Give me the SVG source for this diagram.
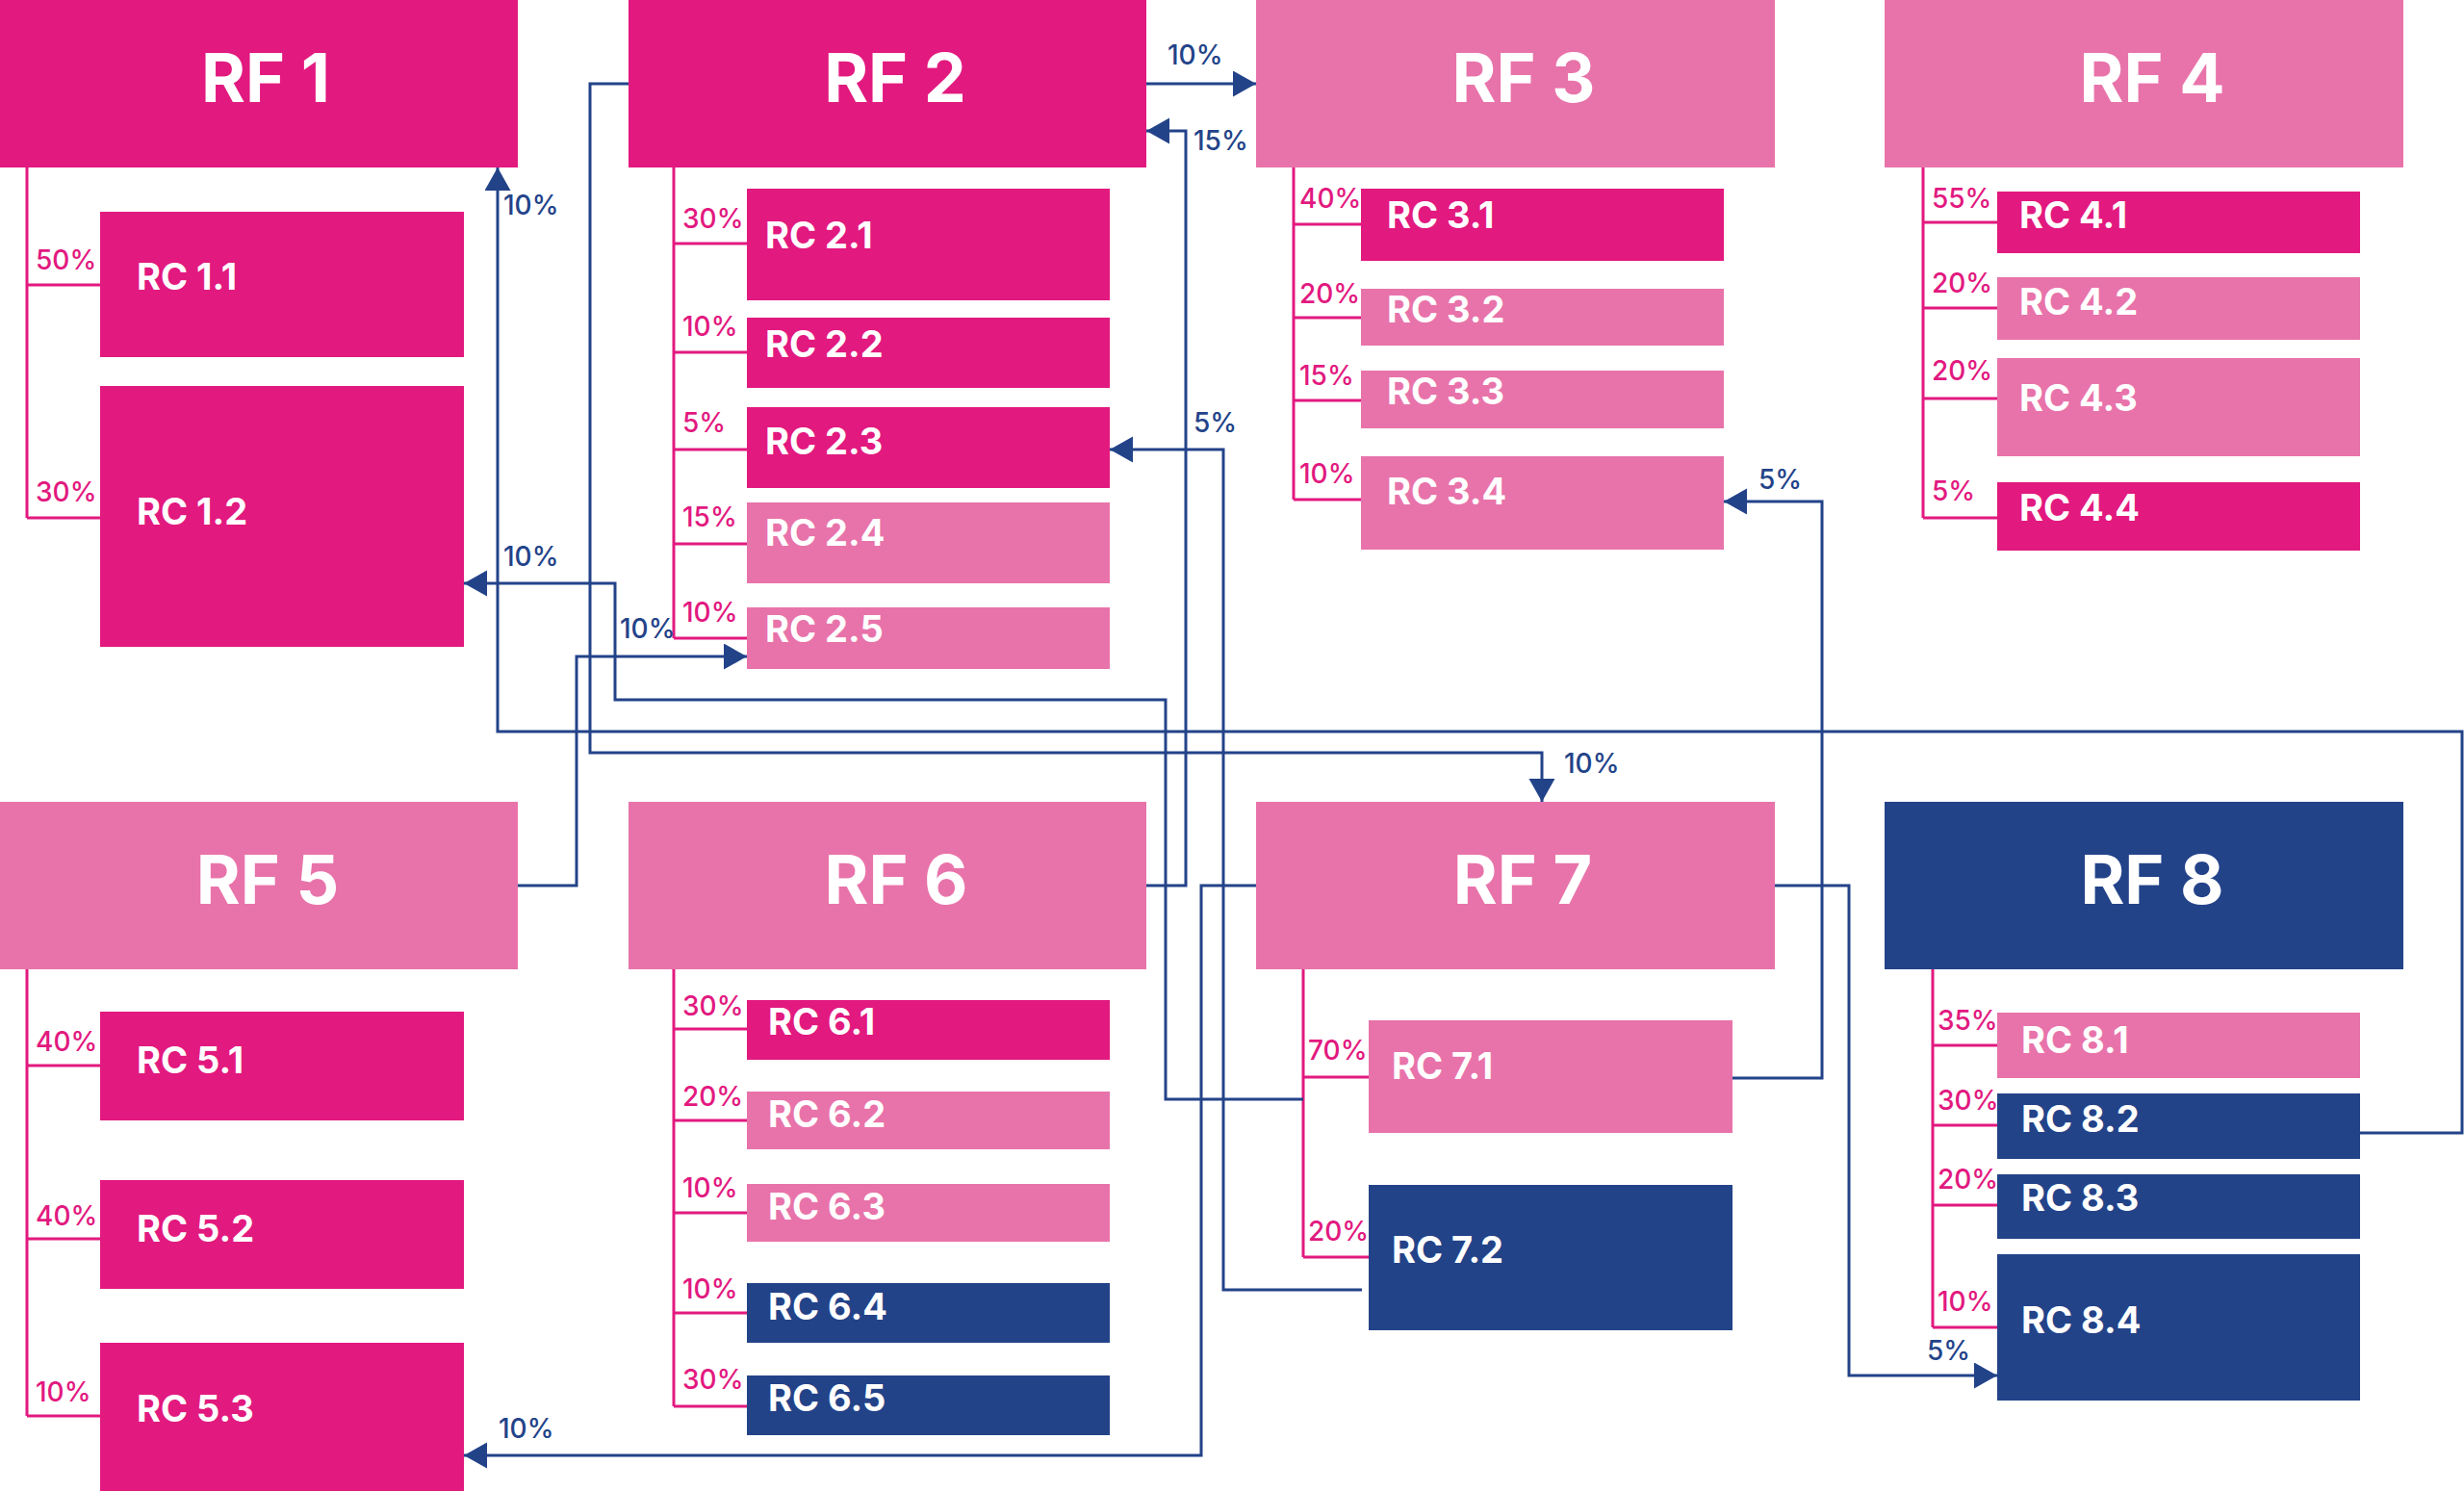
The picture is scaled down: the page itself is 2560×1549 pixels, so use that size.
<svg xmlns="http://www.w3.org/2000/svg" width="2560" height="1549" viewBox="0 0 2560 1549">
<defs>
<style>
text{font-family:Inter,"Liberation Sans",sans-serif}
.m{fill:#E2197F}.l{fill:#E873AA}.n{fill:#234389}
.rf{fill:#fff;font-size:70px;font-weight:700;text-anchor:middle}
.rc{fill:#fff;font-size:38px;font-weight:700}
.pl{fill:#E2197F;font-size:28px;font-weight:500}
.bl{fill:#234389;font-size:28px;font-weight:500}
.stem{fill:none;stroke:#E2197F;stroke-width:3}
.flow{fill:none;stroke:#234389;stroke-width:3;marker-end:url(#ah)}
</style>
<marker id="ah" markerUnits="userSpaceOnUse" markerWidth="26" markerHeight="28" refX="24" refY="13.5" orient="auto" viewBox="0 0 26 28">
<path d="M0,0 L24,13.5 L0,27 z" fill="#234389"/>
</marker>
</defs>
<rect width="2560" height="1549" fill="#fff"/>

<g id="connectors">
<g id="stems">
<path class="stem" d="M28,174 V538 M28,296 H104 M28,538 H104"/>
<path class="stem" d="M700,174 V663 M700,253 H776 M700,366 H776 M700,467 H776 M700,565 H776 M700,663 H776"/>
<path class="stem" d="M1344,174 V519 M1344,233 H1414 M1344,330 H1414 M1344,416 H1414 M1344,519 H1414"/>
<path class="stem" d="M1998,174 V538 M1998,231 H2075 M1998,320 H2075 M1998,414 H2075 M1998,538 H2075"/>
<path class="stem" d="M28,1007 V1471 M28,1107 H104 M28,1287 H104 M28,1471 H104"/>
<path class="stem" d="M700,1007 V1461 M700,1069 H776 M700,1164 H776 M700,1260 H776 M700,1364 H776 M700,1461 H776"/>
<path class="stem" d="M1354,1007 V1306 M1354,1119 H1422 M1354,1306 H1422"/>
<path class="stem" d="M2008,1007 V1379 M2008,1086 H2075 M2008,1169 H2075 M2008,1252 H2075 M2008,1379 H2075"/>
</g>
<g id="share-labels">
<text class="pl" x="37" y="280">50%</text>
<text class="pl" x="37" y="521">30%</text>
<text class="pl" x="709" y="237">30%</text>
<text class="pl" x="709" y="349">10%</text>
<text class="pl" x="709" y="449">5%</text>
<text class="pl" x="709" y="547">15%</text>
<text class="pl" x="709" y="646">10%</text>
<text class="pl" x="1350" y="216">40%</text>
<text class="pl" x="1350" y="315">20%</text>
<text class="pl" x="1350" y="400">15%</text>
<text class="pl" x="1350" y="502">10%</text>
<text class="pl" x="2007" y="216">55%</text>
<text class="pl" x="2007" y="304">20%</text>
<text class="pl" x="2007" y="395">20%</text>
<text class="pl" x="2007" y="520">5%</text>
<text class="pl" x="37" y="1092">40%</text>
<text class="pl" x="37" y="1273">40%</text>
<text class="pl" x="37" y="1456">10%</text>
<text class="pl" x="709" y="1055">30%</text>
<text class="pl" x="709" y="1149">20%</text>
<text class="pl" x="709" y="1244">10%</text>
<text class="pl" x="709" y="1349">10%</text>
<text class="pl" x="709" y="1443">30%</text>
<text class="pl" x="1359" y="1101">70%</text>
<text class="pl" x="1359" y="1289">20%</text>
<text class="pl" x="2013" y="1070">35%</text>
<text class="pl" x="2013" y="1153">30%</text>
<text class="pl" x="2013" y="1235">20%</text>
<text class="pl" x="2013" y="1362">10%</text>
</g>
<g id="flows">
<path class="flow" d="M1191,87 H1305"/>
<path class="flow" d="M1191,920 H1232 V136 H1191"/>
<path class="flow" d="M1415,1340 H1271 V467 H1153"/>
<path class="flow" d="M1800,1120 H1893 V521 H1791"/>
<path class="flow" d="M2452,1177 H2558 V760 H517 V174"/>
<path class="flow" d="M653,87 H613 V782 H1602 V833"/>
<path class="flow" d="M1354,1142 H1211 V727 H639 V606 H482"/>
<path class="flow" d="M538,920 H599 V682 H776"/>
<path class="flow" d="M1305,920 H1248 V1512 H482"/>
<path class="flow" d="M1844,920 H1921 V1429 H2075"/>
</g>
<g id="flow-labels">
<text class="bl" x="1213" y="67">10%</text>
<text class="bl" x="1240" y="156">15%</text>
<text class="bl" x="1240" y="449">5%</text>
<text class="bl" x="1827" y="508">5%</text>
<text class="bl" x="523" y="223">10%</text>
<text class="bl" x="1625" y="803">10%</text>
<text class="bl" x="523" y="588">10%</text>
<text class="bl" x="644" y="663">10%</text>
<text class="bl" x="518" y="1494">10%</text>
<text class="bl" x="2002" y="1413">5%</text>
</g>
</g>

<g id="RF1"><rect class="m" x="0" y="0" width="538" height="174"/><text class="rf" x="276" y="106">RF 1</text></g>
<g id="RF2"><rect class="m" x="653" y="0" width="538" height="174"/><text class="rf" x="930" y="106">RF 2</text></g>
<g id="RF3"><rect class="l" x="1305" y="0" width="539" height="174"/><text class="rf" x="1583" y="106">RF 3</text></g>
<g id="RF4"><rect class="l" x="1958" y="0" width="539" height="174"/><text class="rf" x="2236" y="106">RF 4</text></g>
<g id="RF5"><rect class="l" x="0" y="833" width="538" height="174"/><text class="rf" x="278" y="939">RF 5</text></g>
<g id="RF6"><rect class="l" x="653" y="833" width="538" height="174"/><text class="rf" x="931" y="939">RF 6</text></g>
<g id="RF7"><rect class="l" x="1305" y="833" width="539" height="174"/><text class="rf" x="1582" y="939">RF 7</text></g>
<g id="RF8"><rect class="n" x="1958" y="833" width="539" height="174"/><text class="rf" x="2236" y="939">RF 8</text></g>

<g id="RC1.1"><rect class="m" x="104" y="220" width="378" height="151"/><text class="rc" x="142" y="301">RC 1.1</text></g>
<g id="RC1.2"><rect class="m" x="104" y="401" width="378" height="271"/><text class="rc" x="142" y="545">RC 1.2</text></g>

<g id="RC2.1"><rect class="m" x="776" y="196" width="377" height="116"/><text class="rc" x="795" y="258">RC 2.1</text></g>
<g id="RC2.2"><rect class="m" x="776" y="330" width="377" height="73"/><text class="rc" x="795" y="371">RC 2.2</text></g>
<g id="RC2.3"><rect class="m" x="776" y="423" width="377" height="84"/><text class="rc" x="795" y="472">RC 2.3</text></g>
<g id="RC2.4"><rect class="l" x="776" y="522" width="377" height="84"/><text class="rc" x="795" y="567">RC 2.4</text></g>
<g id="RC2.5"><rect class="l" x="776" y="631" width="377" height="64"/><text class="rc" x="795" y="667">RC 2.5</text></g>

<g id="RC3.1"><rect class="m" x="1414" y="196" width="377" height="75"/><text class="rc" x="1441" y="237">RC 3.1</text></g>
<g id="RC3.2"><rect class="l" x="1414" y="300" width="377" height="59"/><text class="rc" x="1441" y="335">RC 3.2</text></g>
<g id="RC3.3"><rect class="l" x="1414" y="385" width="377" height="60"/><text class="rc" x="1441" y="420">RC 3.3</text></g>
<g id="RC3.4"><rect class="l" x="1414" y="474" width="377" height="97"/><text class="rc" x="1441" y="524">RC 3.4</text></g>

<g id="RC4.1"><rect class="m" x="2075" y="199" width="377" height="64"/><text class="rc" x="2098" y="237">RC 4.1</text></g>
<g id="RC4.2"><rect class="l" x="2075" y="288" width="377" height="65"/><text class="rc" x="2098" y="327">RC 4.2</text></g>
<g id="RC4.3"><rect class="l" x="2075" y="372" width="377" height="102"/><text class="rc" x="2098" y="427">RC 4.3</text></g>
<g id="RC4.4"><rect class="m" x="2075" y="501" width="377" height="71"/><text class="rc" x="2098" y="541">RC 4.4</text></g>

<g id="RC5.1"><rect class="m" x="104" y="1051" width="378" height="113"/><text class="rc" x="142" y="1115">RC 5.1</text></g>
<g id="RC5.2"><rect class="m" x="104" y="1226" width="378" height="113"/><text class="rc" x="142" y="1290">RC 5.2</text></g>
<g id="RC5.3"><rect class="m" x="104" y="1395" width="378" height="154"/><text class="rc" x="142" y="1477">RC 5.3</text></g>

<g id="RC6.1"><rect class="m" x="776" y="1039" width="377" height="62"/><text class="rc" x="798" y="1075">RC 6.1</text></g>
<g id="RC6.2"><rect class="l" x="776" y="1134" width="377" height="60"/><text class="rc" x="798" y="1171">RC 6.2</text></g>
<g id="RC6.3"><rect class="l" x="776" y="1230" width="377" height="60"/><text class="rc" x="798" y="1267">RC 6.3</text></g>
<g id="RC6.4"><rect class="n" x="776" y="1333" width="377" height="62"/><text class="rc" x="798" y="1371">RC 6.4</text></g>
<g id="RC6.5"><rect class="n" x="776" y="1429" width="377" height="62"/><text class="rc" x="798" y="1466">RC 6.5</text></g>

<g id="RC7.1"><rect class="l" x="1422" y="1060" width="378" height="117"/><text class="rc" x="1446" y="1121">RC 7.1</text></g>
<g id="RC7.2"><rect class="n" x="1422" y="1231" width="378" height="151"/><text class="rc" x="1446" y="1312">RC 7.2</text></g>

<g id="RC8.1"><rect class="l" x="2075" y="1052" width="377" height="68"/><text class="rc" x="2100" y="1094">RC 8.1</text></g>
<g id="RC8.2"><rect class="n" x="2075" y="1136" width="377" height="68"/><text class="rc" x="2100" y="1176">RC 8.2</text></g>
<g id="RC8.3"><rect class="n" x="2075" y="1220" width="377" height="67"/><text class="rc" x="2100" y="1258">RC 8.3</text></g>
<g id="RC8.4"><rect class="n" x="2075" y="1303" width="377" height="152"/><text class="rc" x="2100" y="1385">RC 8.4</text></g>
</svg>
